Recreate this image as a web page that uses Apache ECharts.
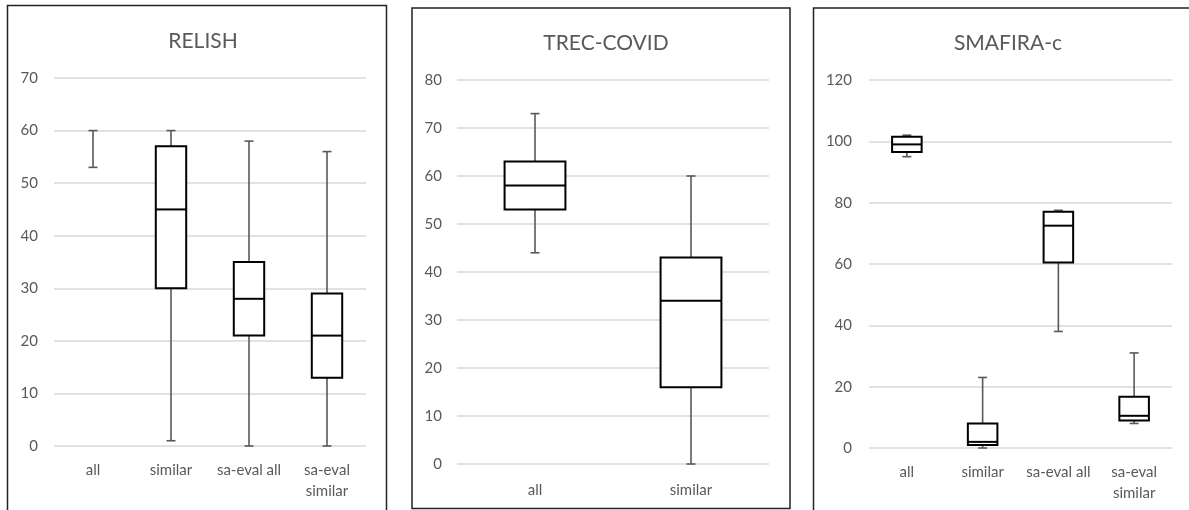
<!DOCTYPE html>
<html><head><meta charset="utf-8">
<script src="https://cdn.jsdelivr.net/npm/echarts@6/dist/echarts.min.js"></script>
<style>html,body{margin:0;padding:0;background:#fff}#c{width:1189px;height:510px}</style>
</head><body><div id="c"></div>
<script>
// ---- data ----
const titles = ['RELISH', 'TREC-COVID', 'SMAFIRA-c'];
const relishCats = ['all', 'similar', 'sa-eval all', 'sa-eval\nsimilar'];
const relishMin = [53, 1, 0, 0];
const relishQ1 = [null, 30, 21, 13];
const relishMed = [null, 45, 28, 21];
const relishQ3 = [null, 57, 35, 29];
const relishMax = [60, 60, 58, 56];

const trecCats = ['all', 'similar'];
const trecMin = [44, 0];
const trecQ1 = [53, 16];
const trecMed = [58, 34];
const trecQ3 = [63, 43];
const trecMax = [73, 60];

const smafCats = ['all', 'similar', 'sa-eval all', 'sa-eval\nsimilar'];
const smafMin = [95, 0, 38, 8];
const smafQ1 = [96.5, 1, 60.5, 9];
const smafMed = [99, 2, 72.5, 10.5];
const smafQ3 = [101.5, 8, 77, 16.7];
const smafMax = [102, 23, 77.5, 31];

const yTicks = [[0, 70, 10], [0, 80, 10], [0, 120, 20]];

function rows(mn, q1, md, q3, mx) {
  return mn.map((v, i) => [i, mn[i], q1[i] == null ? '-' : q1[i], md[i] == null ? '-' : md[i], q3[i] == null ? '-' : q3[i], mx[i]]);
}

const FONT = 'Lato';
const GRAY = '#595959';

function renderBox(params, api) {
  const x = api.value(0);
  const mn = api.value(1), q1 = api.value(2), md = api.value(3), q3 = api.value(4), mx = api.value(5);
  const bw = api.size([1, 0])[0] * 0.39;
  const pMin = api.coord([x, mn]), pMax = api.coord([x, mx]);
  const cx = pMin[0];
  const capW = 9;
  const children = [];
  const wstyle = { stroke: GRAY, lineWidth: 1.6 };
  children.push({ type: 'line', shape: { x1: cx, y1: pMin[1], x2: cx, y2: pMax[1] }, style: wstyle });
  children.push({ type: 'line', shape: { x1: cx - capW / 2, y1: pMin[1], x2: cx + capW / 2, y2: pMin[1] }, style: wstyle });
  children.push({ type: 'line', shape: { x1: cx - capW / 2, y1: pMax[1], x2: cx + capW / 2, y2: pMax[1] }, style: wstyle });
  if (!isNaN(q1) && !isNaN(q3)) {
    const p1 = api.coord([x, q1]), p3 = api.coord([x, q3]), pm = api.coord([x, md]);
    children.push({ type: 'rect', shape: { x: cx - bw / 2, y: p3[1], width: bw, height: p1[1] - p3[1] },
      style: { fill: '#fff', stroke: '#000', lineWidth: 2 } });
    children.push({ type: 'line', shape: { x1: cx - bw / 2, y1: pm[1], x2: cx + bw / 2, y2: pm[1] },
      style: { stroke: '#000', lineWidth: 2 } });
  }
  return { type: 'group', children };
}

const grids = [
  { left: 54, right: 823, top: 78, bottom: 64 },
  { left: 457, right: 420, top: 80, bottom: 46 },
  { left: 869, right: 17, top: 80, bottom: 62 }
];
const cats = [relishCats, trecCats, smafCats];
const xMargins = [14, 16, 14];
const yMargins = [16, 15, 17];
const titlePos = [[198, 26], [601, 28], [1003, 28]];

const option = {
  animation: false,
  backgroundColor: '#fff',
  title: titles.map((t, i) => ({
    text: t, left: titlePos[i][0], top: titlePos[i][1], textAlign: 'center',
    textStyle: { fontFamily: FONT, fontSize: 21, fontWeight: 'normal', color: GRAY }
  })),
  graphic: [
    { type: 'rect', shape: { x: 7.5, y: 5.5, width: 379, height: 520 }, style: { fill: 'none', stroke: '#222', lineWidth: 1.5 }, z: 100 },
    { type: 'rect', shape: { x: 412, y: 8, width: 378, height: 500.5 }, style: { fill: 'none', stroke: '#222', lineWidth: 1.5 }, z: 100 },
    { type: 'rect', shape: { x: 813.5, y: 8, width: 400, height: 520 }, style: { fill: 'none', stroke: '#222', lineWidth: 1.5 }, z: 100 }
  ],
  grid: grids,
  xAxis: cats.map((c, i) => ({
    type: 'category', gridIndex: i, data: c, boundaryGap: true,
    axisLine: { show: false }, axisTick: { show: false },
    axisLabel: { fontFamily: FONT, fontSize: 15, color: GRAY, margin: xMargins[i], lineHeight: 21, interval: 0 }
  })),
  yAxis: yTicks.map((t, i) => ({
    type: 'value', gridIndex: i, min: t[0], max: t[1], interval: t[2],
    axisLine: { show: false }, axisTick: { show: false },
    axisLabel: { fontFamily: FONT, fontSize: 15, color: GRAY, margin: yMargins[i] },
    splitLine: { lineStyle: { color: '#d9d9d9', width: 1.5 } }
  })),
  series: [
    { type: 'custom', xAxisIndex: 0, yAxisIndex: 0, renderItem: renderBox, encode: { x: 0, y: [1, 2, 3, 4, 5] },
      data: rows(relishMin, relishQ1, relishMed, relishQ3, relishMax) },
    { type: 'custom', xAxisIndex: 1, yAxisIndex: 1, renderItem: renderBox, encode: { x: 0, y: [1, 2, 3, 4, 5] },
      data: rows(trecMin, trecQ1, trecMed, trecQ3, trecMax) },
    { type: 'custom', xAxisIndex: 2, yAxisIndex: 2, renderItem: renderBox, encode: { x: 0, y: [1, 2, 3, 4, 5] },
      data: rows(smafMin, smafQ1, smafMed, smafQ3, smafMax) }
  ]
};
echarts.init(document.getElementById('c')).setOption(option);
</script></body></html>
